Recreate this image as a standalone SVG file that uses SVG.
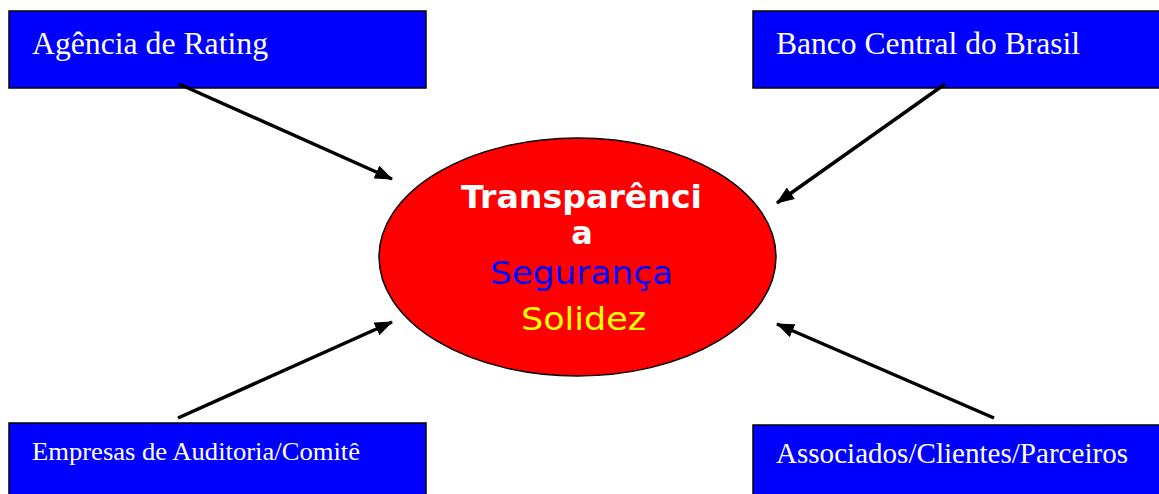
<svg xmlns="http://www.w3.org/2000/svg" width="1159" height="494" viewBox="0 0 1159 494">
<style>
.box{fill:#0000FF;stroke:#000;stroke-width:1.5}
.lbl{font-family:"Liberation Serif","Times New Roman",serif;fill:#fff}
.conn{stroke:#000;stroke-width:3.5;fill:none}
.ct{font-family:"DejaVu Sans",Verdana,sans-serif;font-size:32px;text-anchor:middle}
</style>
<defs>
<marker id="ah" markerUnits="userSpaceOnUse" markerWidth="18" markerHeight="14" refX="17" refY="7" orient="auto">
<path d="M0,0 L18,7 L0,14 Z" fill="#000"/>
</marker>
</defs>
<rect width="1159" height="494" fill="#fff"/>
<g id="agencia">
<rect class="box" x="9" y="11" width="417" height="77"/>
<text class="lbl" x="32" y="54" font-size="31" textLength="236" lengthAdjust="spacingAndGlyphs">Agência de Rating</text>
</g>
<g id="banco">
<rect class="box" x="753" y="11" width="420" height="77"/>
<text class="lbl" x="776" y="54" font-size="31" textLength="304" lengthAdjust="spacingAndGlyphs">Banco Central do Brasil</text>
</g>
<g id="empresas">
<rect class="box" x="9" y="423" width="417" height="80"/>
<text class="lbl" x="32" y="460" font-size="26" textLength="328" lengthAdjust="spacingAndGlyphs">Empresas de Auditoria/Comitê</text>
</g>
<g id="associados">
<rect class="box" x="753" y="425" width="420" height="80"/>
<text class="lbl" x="776" y="463" font-size="29" textLength="352" lengthAdjust="spacingAndGlyphs">Associados/Clientes/Parceiros</text>
</g>
<g id="centro">
<ellipse cx="577.5" cy="257" rx="198.5" ry="119" fill="#FF0000" stroke="#000" stroke-width="1.5"/>
<text class="ct" x="581.5" y="208" fill="#fff" font-weight="bold" textLength="241" lengthAdjust="spacingAndGlyphs">Transparênci</text>
<text class="ct" x="582" y="244" fill="#fff" font-weight="bold">a</text>
<text class="ct" x="581.5" y="284" fill="#0000FF" textLength="183" lengthAdjust="spacingAndGlyphs">Segurança</text>
<text class="ct" x="583.5" y="330" fill="#FFFF00" textLength="125" lengthAdjust="spacingAndGlyphs">Solidez</text>
</g>
<g id="connectors">
<line class="conn" x1="179" y1="84" x2="392" y2="179" marker-end="url(#ah)"/>
<line class="conn" x1="945" y1="84" x2="777" y2="203" marker-end="url(#ah)"/>
<line class="conn" x1="178" y1="418" x2="392" y2="322" marker-end="url(#ah)"/>
<line class="conn" x1="994" y1="418" x2="777" y2="324" marker-end="url(#ah)"/>
</g>
</svg>
